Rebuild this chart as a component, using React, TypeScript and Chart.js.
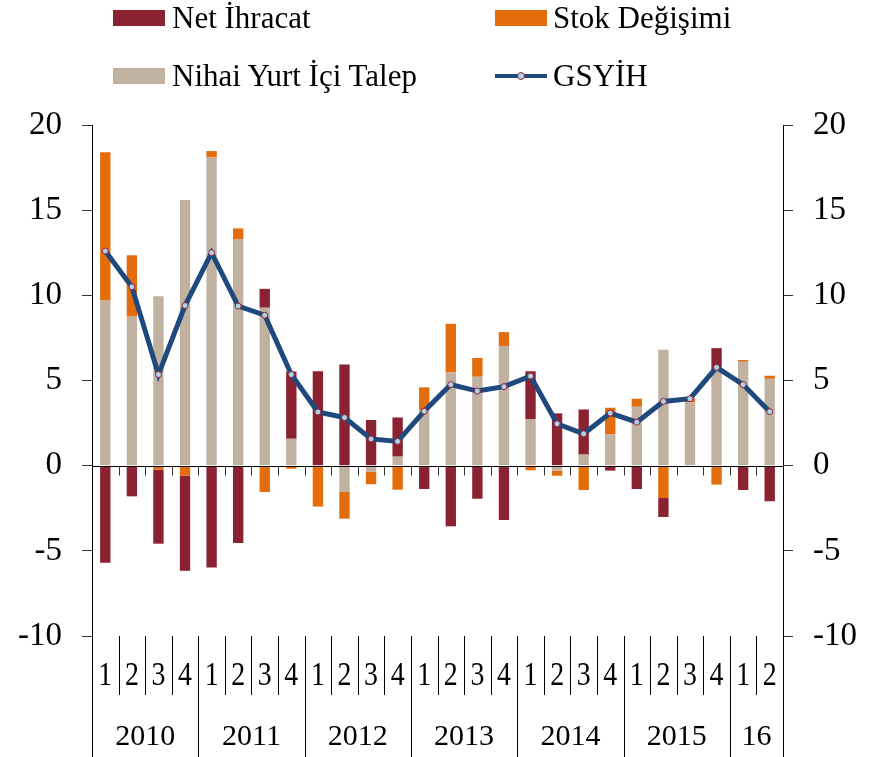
import React, { useEffect, useRef } from 'react';
import { Chart, registerables } from 'chart.js';

Chart.register(...registerables);

const quarters = ['1','2','3','4','1','2','3','4','1','2','3','4','1','2','3','4','1','2','3','4','1','2','3','4','1','2'];
const years = ['2010', '2011', '2012', '2013', '2014', '2015', '16'];
const yearSpans = [4, 4, 4, 4, 4, 4, 2];

const nihaiYurtIciTalep = [9.7, 8.75, 9.95, 15.6, 18.1, 13.3, 9.27, 1.58, 0, -1.52, -0.35, 0.53, 3.25, 5.47, 5.22, 7.02, 2.74, -0.29, 0.65, 1.84, 3.46, 6.8, 3.71, 5.59, 6.1, 5.1];
const stokDegisimi = [8.7, 3.6, -0.23, -0.57, 0.37, 0.63, -1.55, -0.18, -2.4, -1.59, -0.74, -1.41, 1.35, 2.86, 1.1, 0.82, -0.27, -0.3, -1.43, 1.56, 0.47, -1.9, 0.24, -1.11, 0.1, 0.18];
const netIhracat = [-5.7, -1.8, -4.35, -5.6, -5.98, -4.54, 1.11, 3.95, 5.55, 5.94, 2.68, 2.3, -1.37, -3.56, -1.94, -3.19, 2.8, 3.07, 2.65, -0.29, -1.37, -1.11, -0.05, 1.31, -1.43, -2.09];
const gsyih = [12.6, 10.5, 5.35, 9.4, 12.5, 9.37, 8.83, 5.35, 3.15, 2.83, 1.57, 1.42, 3.2, 4.76, 4.38, 4.64, 5.26, 2.46, 1.87, 3.09, 2.55, 3.77, 3.93, 5.77, 4.76, 3.17];

const yTicks = { min: -10, max: 20, step: 5 };

const FONT = '"Liberation Serif", "Times New Roman", serif';
const C_NET = '#8B2232';
const C_STOK = '#E46C0A';
const C_NIHAI = '#C1B1A1';
const C_LINE = '#1F497D';

export default function App() {
  const ref = useRef<HTMLCanvasElement>(null);

  useEffect(() => {
    const canvas = ref.current;
    if (!canvas) return;

    const axisPlugin = {
      id: 'customAxis',
      afterDatasetsDraw(chart: any) {
        const { ctx, chartArea, scales } = chart;
        const y = scales.y;
        const y0 = Math.round(y.getPixelForValue(0)) + 0.5;
        const n = quarters.length;
        const left = chartArea.left;
        const w = (chartArea.right - chartArea.left) / n;
        const bx = (i: number) => Math.round(left + i * w) + 0.5;
        ctx.save();
        ctx.strokeStyle = '#000';
        ctx.lineWidth = 1;
        ctx.beginPath();
        ctx.moveTo(chartArea.left, y0);
        ctx.lineTo(chartArea.right, y0);
        ctx.stroke();
        ctx.strokeStyle = '#333';
        ctx.beginPath();
        for (let i = 1; i < n; i++) {
          ctx.moveTo(bx(i), y0);
          ctx.lineTo(bx(i), y0 + 9);
        }
        ctx.stroke();
        ctx.restore();
      },
      afterDraw(chart: any) {
        const { ctx, chartArea, scales } = chart;
        const n = quarters.length;
        const left = chartArea.left;
        const w = (chartArea.right - chartArea.left) / n;
        const bx = (i: number) => Math.round(left + i * w) + 0.5;
        const bottom = chartArea.bottom;
        const H = chart.height;
        ctx.save();
        ctx.strokeStyle = '#000';
        ctx.lineWidth = 1;
        const yearBounds = new Set<number>();
        let acc = 0;
        yearBounds.add(0);
        for (const s of yearSpans) { acc += s; yearBounds.add(acc); }
        ctx.beginPath();
        for (let i = 0; i <= n; i++) {
          ctx.moveTo(bx(i), bottom);
          ctx.lineTo(bx(i), yearBounds.has(i) ? H : bottom + 59);
        }
        ctx.stroke();
        ctx.fillStyle = '#000';
        ctx.textAlign = 'center';
        ctx.textBaseline = 'middle';
        // quarter labels (slightly condensed, as in the original)
        ctx.font = `34px ${FONT}`;
        for (let i = 0; i < n; i++) {
          const cx = scales.x.getPixelForValue(i);
          ctx.save();
          ctx.translate(cx, bottom + 40);
          ctx.scale(0.82, 1);
          ctx.fillText(quarters[i], 0, 0);
          ctx.restore();
        }
        ctx.font = `30px ${FONT}`;
        let start = 0;
        for (let k = 0; k < years.length; k++) {
          const cx = left + (start + yearSpans[k] / 2) * w;
          ctx.fillText(years[k], cx, bottom + 101);
          start += yearSpans[k];
        }
        ctx.restore();
      },
    };

    const yAxisCommon = {
      min: yTicks.min,
      max: yTicks.max,
      ticks: {
        stepSize: yTicks.step,
        color: '#000',
        font: { family: FONT, size: 33 },
        padding: 20,
      },
      grid: { drawOnChartArea: false, drawTicks: true, tickLength: 10, color: '#333' },
      border: { display: true, color: '#000', width: 1 },
    };

    const chart = new Chart(canvas, {
      type: 'bar',
      data: {
        labels: quarters,
        datasets: [
          {
            type: 'line',
            label: 'GSYİH',
            data: gsyih,
            borderColor: C_LINE,
            borderWidth: 5,
            pointRadius: 3,
            pointBackgroundColor: '#A9D4E8',
            pointBorderColor: '#9B2335',
            pointBorderWidth: 1,
            tension: 0,
            yAxisID: 'y',
            stack: 'gdp',
            order: 0,
          } as any,
          {
            label: 'Nihai Yurt İçi Talep',
            data: nihaiYurtIciTalep,
            backgroundColor: C_NIHAI,
            yAxisID: 'y',
            order: 1,
          },
          {
            label: 'Stok Değişimi',
            data: stokDegisimi,
            backgroundColor: C_STOK,
            yAxisID: 'y',
            order: 1,
          },
          {
            label: 'Net İhracat',
            data: netIhracat,
            backgroundColor: C_NET,
            yAxisID: 'y',
            order: 1,
          },
        ],
      },
      options: {
        responsive: false,
        animation: false,
        events: [],
        datasets: {
          bar: { barPercentage: 0.39, categoryPercentage: 1 },
        },
        layout: { padding: { top: 125, left: 0, right: 0, bottom: 0 } },
        plugins: {
          legend: { display: false },
          tooltip: { enabled: false },
        },
        scales: {
          x: {
            stacked: true,
            ticks: { display: false },
            grid: { display: false },
            border: { display: false },
            afterFit: (s: any) => { s.height = 121; },
          },
          y: {
            ...yAxisCommon,
            position: 'left',
            stacked: true,
            afterFit: (s: any) => { s.width = 92; },
          },
          y2: {
            ...yAxisCommon,
            position: 'right',
            afterFit: (s: any) => { s.width = 94; },
          },
        },
      } as any,
      plugins: [axisPlugin],
    });

    return () => chart.destroy();
  }, []);

  const textStyle: React.CSSProperties = {
    position: 'absolute',
    fontFamily: FONT,
    fontSize: 31,
    lineHeight: '36px',
    color: '#000',
    whiteSpace: 'nowrap',
  };

  return (
    <div style={{ position: 'absolute', left: 0, top: 0, width: 877, height: 757, background: '#fff' }}>
      <canvas ref={ref} width={877} height={757} style={{ position: 'absolute', left: 0, top: 0 }} />
      <div style={{ position: 'absolute', left: 113, top: 10, width: 52, height: 16, background: C_NET }} />
      <div style={{ ...textStyle, left: 172, top: 0 }}>Net İhracat</div>
      <div style={{ position: 'absolute', left: 495, top: 10, width: 52, height: 16, background: C_STOK }} />
      <div style={{ ...textStyle, left: 553, top: 0 }}>Stok Değişimi</div>
      <div style={{ position: 'absolute', left: 113, top: 68, width: 52, height: 16, background: C_NIHAI }} />
      <div style={{ ...textStyle, left: 172, top: 58 }}>Nihai Yurt İçi Talep</div>
      <div style={{ position: 'absolute', left: 495, top: 74, width: 52, height: 4, background: C_LINE }} />
      <div style={{ position: 'absolute', left: 517, top: 72, width: 6, height: 6, borderRadius: '50%', background: '#A9D4E8', border: '1px solid #9B2335' }} />
      <div style={{ ...textStyle, left: 553, top: 58 }}>GSYİH</div>
    </div>
  );
}
